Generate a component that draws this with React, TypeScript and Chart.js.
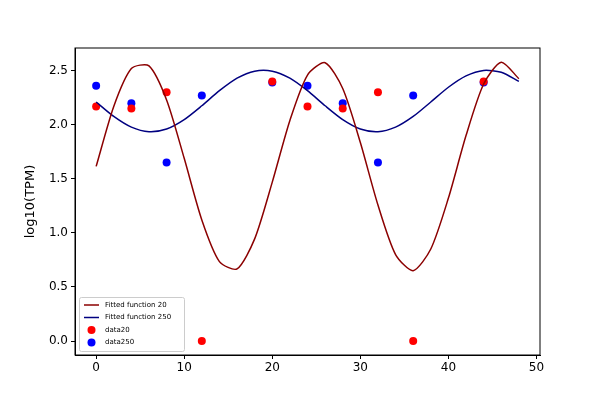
import React, { useEffect, useRef } from "react";
import { Chart, registerables } from "chart.js";
Chart.register(...registerables);

const fitX = [0,2,4,6,8,10,12,14,16,18,20,22,24,26,28,30,32,34,36,38,40,42,44,46,48];
const fit20 = [1.615,2.17,2.52,2.545,2.23,1.69,1.12,0.735,0.667,0.945,1.47,2.04,2.46,2.574,2.335,1.836,1.258,0.80,0.651,0.851,1.322,1.90,2.377,2.579,2.426];
const fit250 = [2.211,2.077,1.978,1.936,1.961,2.048,2.176,2.315,2.431,2.496,2.496,2.431,2.315,2.176,2.048,1.961,1.936,1.978,2.077,2.211,2.347,2.452,2.503,2.486,2.402];
const dataX = [0,4,8,12,20,24,28,32,36,44];
const data20 = [2.17,2.15,2.30,0,2.40,2.17,2.15,2.30,0,2.40];
const data250 = [2.36,2.20,1.65,2.27,2.39,2.36,2.20,1.65,2.27,2.39];
const xTicks = [0,10,20,30,40,50];
const yTicks = [0,0.5,1,1.5,2,2.5];
const yLabel = "log10(TPM)";

const legendPlugin = {
  id: "boxLegend",
  afterDraw(chart: any) {
    const ctx = chart.ctx;
    const ds = chart.data.datasets;
    const a = chart.chartArea;
    ctx.save();
    ctx.strokeStyle = "#000";
    ctx.lineWidth = 1;
    ctx.strokeRect(a.left, a.top, a.right - a.left, a.bottom - a.top);
    ctx.translate(31, (a.top + a.bottom) / 2);
    ctx.rotate(-Math.PI / 2);
    ctx.fillStyle = "#000";
    ctx.font = "13px 'DejaVu Sans'";
    ctx.textAlign = "center";
    ctx.textBaseline = "middle";
    ctx.fillText(yLabel, 0, 0);
    ctx.restore();

    const x0 = 79, y0 = 297, w = 105, h = 54;
    ctx.save();
    ctx.fillStyle = "rgba(255,255,255,0.8)";
    ctx.strokeStyle = "#cccccc";
    ctx.lineWidth = 1;
    ctx.beginPath();
    ctx.roundRect(x0 + 0.5, y0 + 0.5, w, h, 2);
    ctx.fill();
    ctx.stroke();
    ctx.font = "7px 'DejaVu Sans'";
    ctx.textBaseline = "middle";
    ds.forEach((d: any, i: number) => {
      const cy = y0 + 8 + i * 12.5;
      if (d.type === "line") {
        ctx.strokeStyle = d.borderColor;
        ctx.lineWidth = 1.5;
        ctx.beginPath();
        ctx.moveTo(x0 + 5, cy);
        ctx.lineTo(x0 + 20, cy);
        ctx.stroke();
      } else {
        ctx.fillStyle = d.backgroundColor;
        ctx.beginPath();
        ctx.arc(x0 + 12.5, cy, 4, 0, Math.PI * 2);
        ctx.fill();
      }
      ctx.fillStyle = "#000";
      ctx.fillText(d.label, x0 + 26, cy);
    });
    ctx.restore();
  },
};

export default function App() {
  const ref = useRef<HTMLCanvasElement>(null);
  useEffect(() => {
    document.body.style.margin = "0";
    const chart = new Chart(ref.current!, {
      type: "line",
      data: {
        datasets: [
          { type: "line", label: "Fitted function 20", data: fitX.map((x, i) => ({ x, y: fit20[i] })), borderColor: "#8B0000", borderWidth: 1.5, pointRadius: 0, tension: 0.25, fill: false },
          { type: "line", label: "Fitted function 250", data: fitX.map((x, i) => ({ x, y: fit250[i] })), borderColor: "#000080", borderWidth: 1.5, pointRadius: 0, tension: 0.25, fill: false },
          { type: "scatter", label: "data20", data: dataX.map((x, i) => ({ x, y: data20[i] })), backgroundColor: "#ff0000", borderColor: "#ff0000", pointRadius: 4, borderWidth: 0 },
          { type: "scatter", label: "data250", data: dataX.map((x, i) => ({ x, y: data250[i] })), backgroundColor: "#0000ff", borderColor: "#0000ff", pointRadius: 4, borderWidth: 0 },
        ] as any,
      },
      options: {
        responsive: false,
        animation: false,
        layout: { padding: { left: 0, right: 60, top: 48, bottom: 0 } },
        plugins: { legend: { display: false }, tooltip: { enabled: false } },
        scales: {
          x: {
            type: "linear", min: -2.4, max: 50.4,
            afterBuildTicks: (s: any) => { s.ticks = xTicks.map((v) => ({ value: v })); },
            afterFit: (s: any) => { s.height = 45; },
            ticks: { color: "#000", font: { family: "DejaVu Sans", size: 12 }, padding: 2, maxRotation: 0 },
            grid: { display: true, drawOnChartArea: false, drawTicks: true, tickLength: 4, color: "#000" },
            border: { color: "#000" },
          },
          y: {
            type: "linear", min: -0.129, max: 2.71,
            afterBuildTicks: (s: any) => { s.ticks = yTicks.map((v) => ({ value: v })); },
            afterFit: (s: any) => { s.width = 75; },
            ticks: { color: "#000", font: { family: "DejaVu Sans", size: 12 }, padding: 3, callback: (v: any) => Number(v).toFixed(1) },
            grid: { display: true, drawOnChartArea: false, drawTicks: true, tickLength: 4, color: "#000" },
            border: { color: "#000" },
          },
        },
      },
      plugins: [legendPlugin],
    });
    return () => chart.destroy();
  }, []);
  return <canvas ref={ref} width={600} height={400} style={{ display: "block" }} />;
}
